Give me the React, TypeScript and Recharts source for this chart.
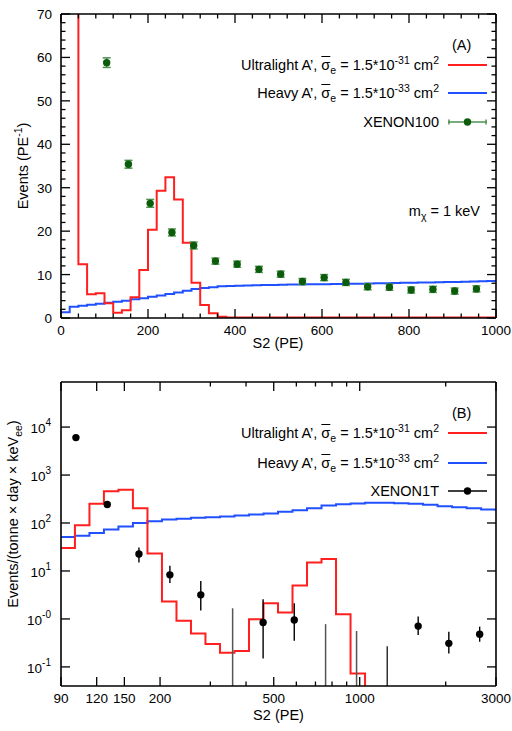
import React from "react";
import { ComposedChart, Line, Scatter, XAxis, YAxis, ErrorBar } from "recharts";

const FONT = "'Liberation Sans', Arial, Helvetica, sans-serif";
const RED = "#ff1f1f";
const BLUE = "#2050ff";
const GREEN = "#0b5d0b";
const GREEN_BAR = "#4f914f";
const FRAME = { stroke: "#000", strokeWidth: 1.6 };

// plot boxes (page pixels); chart margins are derived from these
const BOX_A = { left: 61, right: 496, top: 14, bottom: 318 };
const BOX_B = { left: 61, right: 496, top: 382, bottom: 686 };
const TOP_B = 360;

// ---- panel A (XENON100, linear) ----
const A_X_DOMAIN = [0, 1000];
const A_Y_DOMAIN = [0, 70];
const A_X_TICKS = [0, 40, 80, 120, 160, 200, 240, 280, 320, 360, 400, 440, 480, 520, 560, 600, 640, 680, 720, 760, 800, 840, 880, 920, 960, 1000];
const A_X_LABELS = [0, 200, 400, 600, 800, 1000];
const A_Y_TICKS = [0, 2, 4, 6, 8, 10, 12, 14, 16, 18, 20, 22, 24, 26, 28, 30, 32, 34, 36, 38, 40, 42, 44, 46, 48, 50, 52, 54, 56, 58, 60, 62, 64, 66, 68, 70];
const A_Y_LABELS = [0, 10, 20, 30, 40, 50, 60, 70];

// step edges (left edge of each bin, last entry closes the histogram)
const A_RED_S2 = [40, 40, 60, 80, 100, 120, 140, 160, 180, 200, 220, 240, 260, 280, 300, 320, 340, 360, 380, 1000];
const A_RED_RATE = [150, 12.4, 5.45, 5.7, 3.4, 1.2, 1.8, 4.8, 11.05, 20.3, 29.3, 32.4, 27.3, 17.3, 8.1, 3.0, 1.1, 0.3, 0.1, 0.1];

const A_BLUE_S2 = [0, 20, 40, 60, 80, 100, 120, 140, 160, 180, 200, 220, 240, 260, 280, 300, 320, 340, 360, 380, 400, 420, 440, 460, 480, 500, 520, 540, 560, 580, 600, 620, 640, 660, 680, 700, 720, 740, 760, 780, 800, 820, 840, 860, 880, 900, 920, 940, 960, 980, 1000];
const A_BLUE_RATE = [1.3, 2.6, 2.84, 3.07, 3.3, 3.53, 3.76, 4.0, 4.3, 4.53, 4.9, 5.2, 5.5, 5.9, 6.3, 6.7, 6.9, 7.1, 7.3, 7.37, 7.45, 7.5, 7.55, 7.6, 7.6, 7.65, 7.7, 7.7, 7.75, 7.75, 7.8, 7.85, 7.85, 7.9, 7.9, 7.95, 8.0, 8.0, 8.05, 8.1, 8.1, 8.15, 8.2, 8.25, 8.3, 8.3, 8.35, 8.4, 8.45, 8.5, 8.5];

const A_X100_S2 = [105, 155, 205, 255, 305, 355, 405, 455, 505, 555, 605, 655, 705, 755, 805, 855, 905, 955];
const A_X100_RATE = [58.8, 35.4, 26.4, 19.7, 16.7, 13.1, 12.4, 11.2, 10.1, 8.4, 9.3, 8.2, 7.2, 7.1, 6.45, 6.6, 6.2, 6.7];
const A_X100_ERR = [1.1, 0.9, 0.9, 0.8, 0.8, 0.7, 0.7, 0.7, 0.7, 0.7, 0.7, 0.7, 0.7, 0.7, 0.7, 0.7, 0.7, 0.7];

// ---- panel B (XENON1T, log-log) ----
const B_X_DOMAIN = [90, 3000];
const B_Y_DOMAIN = [0.04, 87000];
const B_X_TICKS = [90, 120, 150, 200, 300, 400, 500, 600, 700, 800, 900, 1000, 2000, 3000];
const B_X_LABELS = [90, 120, 150, 200, 500, 1000, 3000];
const B_Y_TICKS = [0.1, 1, 10, 100, 1000, 10000];
const B_Y_EXP = ["-1", "-0", "1", "2", "3", "4"];

const B_EDGES = [90, 100.7, 113.2, 127.2, 143.0, 160.7, 180.7, 203.1, 228.3, 256.6, 288.4, 324.2, 364.4, 409.6, 460.4, 517.5, 581.7, 653.9, 735.0, 826.2, 928.7, 1043.9, 1173.4, 1319, 1482.6, 1666.5, 1873.3, 2105.7, 2367, 2660.6, 2990.7, 3000];
const B_RED_RATE = [30, 89.5, 251, 460, 495, 203, 23.2, 2.3, 0.92, 0.5, 0.3, 0.197, 0.214, 0.98, 2.13, 1.36, 4.97, 15.1, 17.7, 1.25, 0.073, 0.001];
const B_BLUE_RATE = [51, 54.5, 62, 73, 85, 100, 109, 118, 122, 128, 132, 136, 143, 150, 157, 171, 185, 203, 231, 246, 255, 263, 263, 258, 251, 239, 224, 213, 203, 191, 189, 189];

const X1T_S2 = [101.5, 130.7, 168.7, 216.5, 277.7, 459, 590, 1602, 2051, 2630];
const X1T_RATE = [6030, 243, 22.6, 8.3, 3.18, 0.84, 0.95, 0.71, 0.31, 0.48];
const X1T_UP = [6600, 265, 31, 12.8, 6.2, 2.58, 2.13, 1.12, 0.54, 0.69];
const X1T_DOWN = [5500, 222, 15, 5.6, 1.5, 0.15, 0.35, 0.46, 0.19, 0.335];
// bins whose bar runs down off the bottom of the frame
const X1T_LIM_S2 = [359, 759.5, 975];
const X1T_LIM_UP = [1.67, 0.78, 0.56];
const X1T_LIM2_S2 = [1248];
const X1T_LIM2_UP = [0.27];

const redA = A_RED_S2.map((x, i) => ({ x, y: A_RED_RATE[i] }));
const blueA = A_BLUE_S2.map((x, i) => ({ x, y: A_BLUE_RATE[i] }));
const x100 = A_X100_S2.map((x, i) => ({ x, y: A_X100_RATE[i], err: A_X100_ERR[i] }));

const redB = B_RED_RATE.map((y, i) => ({ x: B_EDGES[i], y }));
const blueB = B_BLUE_RATE.map((y, i) => ({ x: B_EDGES[i], y }));
const x1t = X1T_S2.map((x, i) => ({ x, y: X1T_RATE[i], err: [X1T_RATE[i] - X1T_DOWN[i], X1T_UP[i] - X1T_RATE[i]] }));
const lim1 = X1T_LIM_S2.map((x, i) => ({ x, y: B_Y_DOMAIN[0], err: [0, X1T_LIM_UP[i] - B_Y_DOMAIN[0]] }));
const lim2 = X1T_LIM2_S2.map((x, i) => ({ x, y: B_Y_DOMAIN[0], err: [0, X1T_LIM2_UP[i] - B_Y_DOMAIN[0]] }));

// inward ticks (tickSize/tickMargin are 0, so p.x / p.y sit on the axis line)
const tickLen = (major: boolean) => (major ? 9 : 4.5);
const bottomTick = (labels: number[]) => (p: any) => {
  const v = p.payload.value;
  const major = labels.includes(v);
  return (
    <g>
      <line x1={p.x} x2={p.x} y1={p.y} y2={p.y - tickLen(major)} stroke="#000" strokeWidth={1.3} />
      {major && (
        <text x={p.x} y={p.y + 17} textAnchor="middle" fontSize={13.5} fontFamily={FONT} fill="#000">
          {v}
        </text>
      )}
    </g>
  );
};
const topTick = (labels: number[]) => (p: any) => (
  <line x1={p.x} x2={p.x} y1={p.y} y2={p.y + tickLen(labels.includes(p.payload.value))} stroke="#000" strokeWidth={1.3} />
);
const leftTick = (labels: number[]) => (p: any) => {
  const v = p.payload.value;
  const major = labels.includes(v);
  return (
    <g>
      <line x1={p.x} x2={p.x + tickLen(major)} y1={p.y} y2={p.y} stroke="#000" strokeWidth={1.3} />
      {major && (
        <text x={p.x - 9} y={p.y + 5} textAnchor="end" fontSize={13.5} fontFamily={FONT} fill="#000">
          {v}
        </text>
      )}
    </g>
  );
};
const rightTick = (labels: number[]) => (p: any) => (
  <line x1={p.x} x2={p.x - tickLen(labels.includes(p.payload.value))} y1={p.y} y2={p.y} stroke="#000" strokeWidth={1.3} />
);
const logLeftTick = (p: any) => {
  const i = B_Y_TICKS.indexOf(p.payload.value);
  return (
    <g>
      <line x1={p.x} x2={p.x + 9} y1={p.y} y2={p.y} stroke="#000" strokeWidth={1.3} />
      <text x={p.x - 10} y={p.y + 6} textAnchor="end" fontSize={13.5} fontFamily={FONT} fill="#000">
        10
        <tspan dy={-7} fontSize={10}>{B_Y_EXP[i]}</tspan>
      </text>
    </g>
  );
};

const dot = (color: string) => (p: any) => <circle cx={p.cx} cy={p.cy} r={3.7} fill={color} />;
const none = () => <g />;

const axisCommon = { type: "number" as const, allowDataOverflow: true, interval: 0 as const, tickSize: 0, tickMargin: 0, tickLine: false, axisLine: FRAME };

function PanelA() {
  return (
    <ComposedChart
      width={512}
      height={TOP_B}
      margin={{ top: BOX_A.top - 1, right: 512 - BOX_A.right - 1, bottom: TOP_B - BOX_A.bottom - 1, left: 0 }}
    >
      <XAxis xAxisId="x" dataKey="x" domain={A_X_DOMAIN} ticks={A_X_TICKS} height={1} tick={bottomTick(A_X_LABELS)} {...axisCommon} />
      <XAxis xAxisId="xt" orientation="top" dataKey="x" domain={A_X_DOMAIN} ticks={A_X_TICKS} height={1} tick={topTick(A_X_LABELS)} {...axisCommon} />
      <YAxis yAxisId="y" dataKey="y" domain={A_Y_DOMAIN} ticks={A_Y_TICKS} width={BOX_A.left} tick={leftTick(A_Y_LABELS)} {...axisCommon} />
      <YAxis yAxisId="yr" orientation="right" dataKey="y" domain={A_Y_DOMAIN} ticks={A_Y_TICKS} width={1} tick={rightTick(A_Y_LABELS)} {...axisCommon} />
      <Line xAxisId="x" yAxisId="y" data={blueA} dataKey="y" type="stepAfter" stroke={BLUE} strokeWidth={2} dot={false} isAnimationActive={false} />
      <Line xAxisId="x" yAxisId="y" data={redA} dataKey="y" type="stepAfter" stroke={RED} strokeWidth={2} dot={false} isAnimationActive={false} />
      <Scatter xAxisId="x" yAxisId="y" data={x100} dataKey="y" shape={dot(GREEN)} isAnimationActive={false}>
        <ErrorBar dataKey="err" direction="y" width={4} stroke={GREEN_BAR} strokeWidth={1.5} />
      </Scatter>
    </ComposedChart>
  );
}

function PanelB() {
  return (
    <ComposedChart
      width={512}
      height={731 - TOP_B}
      margin={{ top: BOX_B.top - TOP_B - 1, right: 512 - BOX_B.right - 1, bottom: 731 - BOX_B.bottom - 1, left: 0 }}
    >
      <XAxis xAxisId="x" dataKey="x" scale="log" domain={B_X_DOMAIN} ticks={B_X_TICKS} height={1} tick={bottomTick(B_X_LABELS)} {...axisCommon} />
      <XAxis xAxisId="xt" orientation="top" dataKey="x" scale="log" domain={B_X_DOMAIN} ticks={B_X_TICKS} height={1} tick={topTick(B_X_LABELS)} {...axisCommon} />
      <YAxis yAxisId="y" dataKey="y" scale="log" domain={B_Y_DOMAIN} ticks={B_Y_TICKS} width={BOX_B.left} tick={logLeftTick} {...axisCommon} />
      <YAxis yAxisId="yr" orientation="right" dataKey="y" scale="log" domain={B_Y_DOMAIN} ticks={B_Y_TICKS} width={1} tick={rightTick(B_Y_TICKS)} {...axisCommon} />
      <Line xAxisId="x" yAxisId="y" data={blueB} dataKey="y" type="stepAfter" stroke={BLUE} strokeWidth={2} dot={false} isAnimationActive={false} />
      <Line xAxisId="x" yAxisId="y" data={redB} dataKey="y" type="stepAfter" stroke={RED} strokeWidth={2} dot={false} isAnimationActive={false} />
      <Scatter xAxisId="x" yAxisId="y" data={lim1} dataKey="y" shape={none} isAnimationActive={false}>
        <ErrorBar dataKey="err" direction="y" width={0} stroke="#555" strokeWidth={1.5} />
      </Scatter>
      <Scatter xAxisId="x" yAxisId="y" data={lim2} dataKey="y" shape={none} isAnimationActive={false}>
        <ErrorBar dataKey="err" direction="y" width={0} stroke="#000" strokeWidth={1.2} />
      </Scatter>
      <Scatter xAxisId="x" yAxisId="y" data={x1t} dataKey="y" shape={dot("#000")} isAnimationActive={false}>
        <ErrorBar dataKey="err" direction="y" width={0} stroke="#000" strokeWidth={1.4} />
      </Scatter>
    </ComposedChart>
  );
}

const text: React.CSSProperties = { position: "absolute", fontFamily: FONT, fontSize: 14.5, color: "#000", whiteSpace: "nowrap", lineHeight: "16px" };
const sup: React.CSSProperties = { fontSize: 10.5, lineHeight: 0, verticalAlign: "super" };
const sub: React.CSSProperties = { fontSize: 10.5, lineHeight: 0, verticalAlign: "sub" };

function Centered({ x, y, rotate, children }: { x: number; y: number; rotate?: boolean; children: React.ReactNode }) {
  return (
    <div style={{ ...text, left: x, top: y, transform: `translate(-50%, -50%)${rotate ? " rotate(-90deg)" : ""}` }}>{children}</div>
  );
}

function Sample({ color, kind }: { color: string; kind: "line" | "bars" | "point" }) {
  return (
    <svg width={39} height={20} style={{ display: "block" }}>
      <line x1={0} x2={39} y1={10} y2={10} stroke={color} strokeWidth={kind === "line" ? 2 : 1.5} />
      {kind === "bars" && <line x1={1} x2={1} y1={7.5} y2={12.5} stroke={color} strokeWidth={1.5} />}
      {kind === "bars" && <line x1={38} x2={38} y1={7.5} y2={12.5} stroke={color} strokeWidth={1.5} />}
      {kind !== "line" && <circle cx={19.5} cy={10} r={3.7} fill={kind === "bars" ? GREEN : "#000"} />}
    </svg>
  );
}

function Row({ y, sample, children }: { y: number; sample: React.ReactNode; children: React.ReactNode }) {
  return (
    <div style={{ ...text, right: 25, top: y - 10, height: 20, display: "flex", alignItems: "center", gap: 9 }}>
      <span>{children}</span>
      {sample}
    </div>
  );
}

const Sigma = () => (
  <>
    <span style={{ textDecoration: "overline" }}>σ</span>
    <span style={sub}>e</span>
  </>
);

function Overlay() {
  return (
    <>
      {/* panel A */}
      <Centered x={461.7} y={45}>(A)</Centered>
      <Row y={65} sample={<Sample color={RED} kind="line" />}>
        Ultralight A’, <Sigma /> = 1.5*10<span style={sup}>-31</span> cm<span style={sup}>2</span>
      </Row>
      <Row y={93.3} sample={<Sample color={BLUE} kind="line" />}>
        Heavy A’, <Sigma /> = 1.5*10<span style={sup}>-33</span> cm<span style={sup}>2</span>
      </Row>
      <Row y={122.3} sample={<Sample color={GREEN_BAR} kind="bars" />}>XENON100</Row>
      <div style={{ ...text, right: 32, top: 201, height: 20, display: "flex", alignItems: "center" }}>
        <span>
          m<span style={sub}>χ</span> = 1 keV
        </span>
      </div>
      <Centered x={22.5} y={166} rotate>
        Events (PE<span style={sup}>-1</span>)
      </Centered>
      <Centered x={278} y={342.5}>S2 (PE)</Centered>

      {/* panel B */}
      <Centered x={461.7} y={413.3}>(B)</Centered>
      <Row y={433.3} sample={<Sample color={RED} kind="line" />}>
        Ultralight A’, <Sigma /> = 1.5*10<span style={sup}>-31</span> cm<span style={sup}>2</span>
      </Row>
      <Row y={463.3} sample={<Sample color={BLUE} kind="line" />}>
        Heavy A’, <Sigma /> = 1.5*10<span style={sup}>-33</span> cm<span style={sup}>2</span>
      </Row>
      <Row y={490.7} sample={<Sample color="#000" kind="point" />}>XENON1T</Row>
      <Centered x={13} y={514} rotate>
        Events/(tonne × day × keV<span style={sub}>ee</span>)
      </Centered>
      <Centered x={278.5} y={715}>S2 (PE)</Centered>
    </>
  );
}

export default function App() {
  return (
    <div style={{ position: "absolute", left: 0, top: 0, width: 512, height: 731, background: "#fff" }}>
      <div style={{ position: "absolute", left: 0, top: 0 }}>
        <PanelA />
      </div>
      <div style={{ position: "absolute", left: 0, top: TOP_B }}>
        <PanelB />
      </div>
      <Overlay />
    </div>
  );
}
